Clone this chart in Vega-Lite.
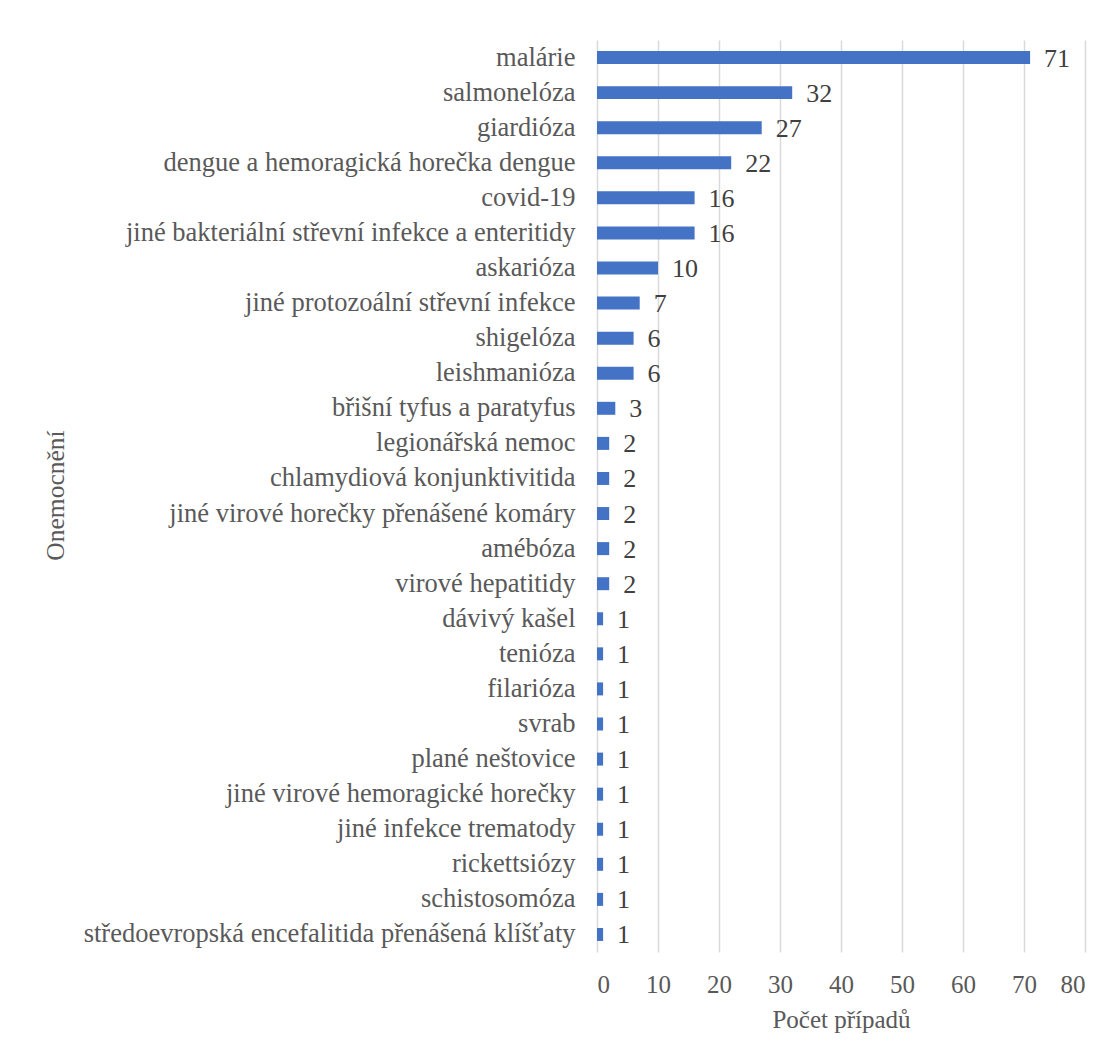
{
  "$schema": "https://vega.github.io/schema/vega-lite/v6.json",
  "width": 488,
  "height": 912,
  "autosize": "none",
  "padding": {"left": 597, "top": 40, "right": 27, "bottom": 107},
  "background": "white",
  "config": {
    "view": {"stroke": null},
    "font": "Liberation Serif",
    "axis": {"labelFont": "Liberation Serif", "titleFont": "Liberation Serif", "labelColor": "#595959", "titleColor": "#595959", "titleFontWeight": "normal"}
  },
  "data": {
    "values": [
      {"onemocneni": "malárie", "pocet": 71},
      {"onemocneni": "salmonelóza", "pocet": 32},
      {"onemocneni": "giardióza", "pocet": 27},
      {"onemocneni": "dengue a hemoragická horečka dengue", "pocet": 22},
      {"onemocneni": "covid-19", "pocet": 16},
      {"onemocneni": "jiné bakteriální střevní infekce a enteritidy", "pocet": 16},
      {"onemocneni": "askarióza", "pocet": 10},
      {"onemocneni": "jiné protozoální střevní infekce", "pocet": 7},
      {"onemocneni": "shigelóza", "pocet": 6},
      {"onemocneni": "leishmanióza", "pocet": 6},
      {"onemocneni": "břišní tyfus a paratyfus", "pocet": 3},
      {"onemocneni": "legionářská nemoc", "pocet": 2},
      {"onemocneni": "chlamydiová konjunktivitida", "pocet": 2},
      {"onemocneni": "jiné virové horečky přenášené komáry", "pocet": 2},
      {"onemocneni": "amébóza", "pocet": 2},
      {"onemocneni": "virové hepatitidy", "pocet": 2},
      {"onemocneni": "dávivý kašel", "pocet": 1},
      {"onemocneni": "tenióza", "pocet": 1},
      {"onemocneni": "filarióza", "pocet": 1},
      {"onemocneni": "svrab", "pocet": 1},
      {"onemocneni": "plané neštovice", "pocet": 1},
      {"onemocneni": "jiné virové hemoragické horečky", "pocet": 1},
      {"onemocneni": "jiné infekce trematody ", "pocet": 1},
      {"onemocneni": "rickettsiózy", "pocet": 1},
      {"onemocneni": "schistosomóza", "pocet": 1},
      {"onemocneni": "středoevropská encefalitida přenášená klíšťaty", "pocet": 1}
    ]
  },
  "encoding": {
    "y": {
      "field": "onemocneni",
      "type": "nominal",
      "sort": null,
      "scale": {"paddingInner": 0.63, "paddingOuter": 0.315},
      "axis": {
        "title": "Onemocnění",
        "titleFontSize": 25.5,
        "titleX": -542,
        "titleY": 455,
        "titleBaseline": "middle",
        "labelFontSize": 26.5,
        "labelPadding": 22,
        "labelLimit": 0,
        "ticks": false,
        "domain": false,
        "grid": false
      }
    },
    "x": {
      "field": "pocet",
      "type": "quantitative",
      "scale": {"domain": [0, 80], "nice": false},
      "axis": {
        "title": "Počet případů",
        "titleFontSize": 25,
        "titlePadding": 10,
        "labelFontSize": 25,
        "labelPadding": 20,
        "values": [0, 10, 20, 30, 40, 50, 60, 70, 80],
        "ticks": false,
        "domain": false,
        "grid": true,
        "gridColor": "#d9d9d9",
        "gridWidth": 1.5
      }
    }
  },
  "layer": [
    {"mark": {"type": "bar", "color": "#4472C4"}},
    {
      "mark": {"type": "text", "align": "left", "baseline": "middle", "dx": 14, "dy": 1, "fontSize": 26, "color": "#404040", "font": "Liberation Serif"},
      "encoding": {"text": {"field": "pocet", "type": "quantitative"}}
    }
  ]
}
